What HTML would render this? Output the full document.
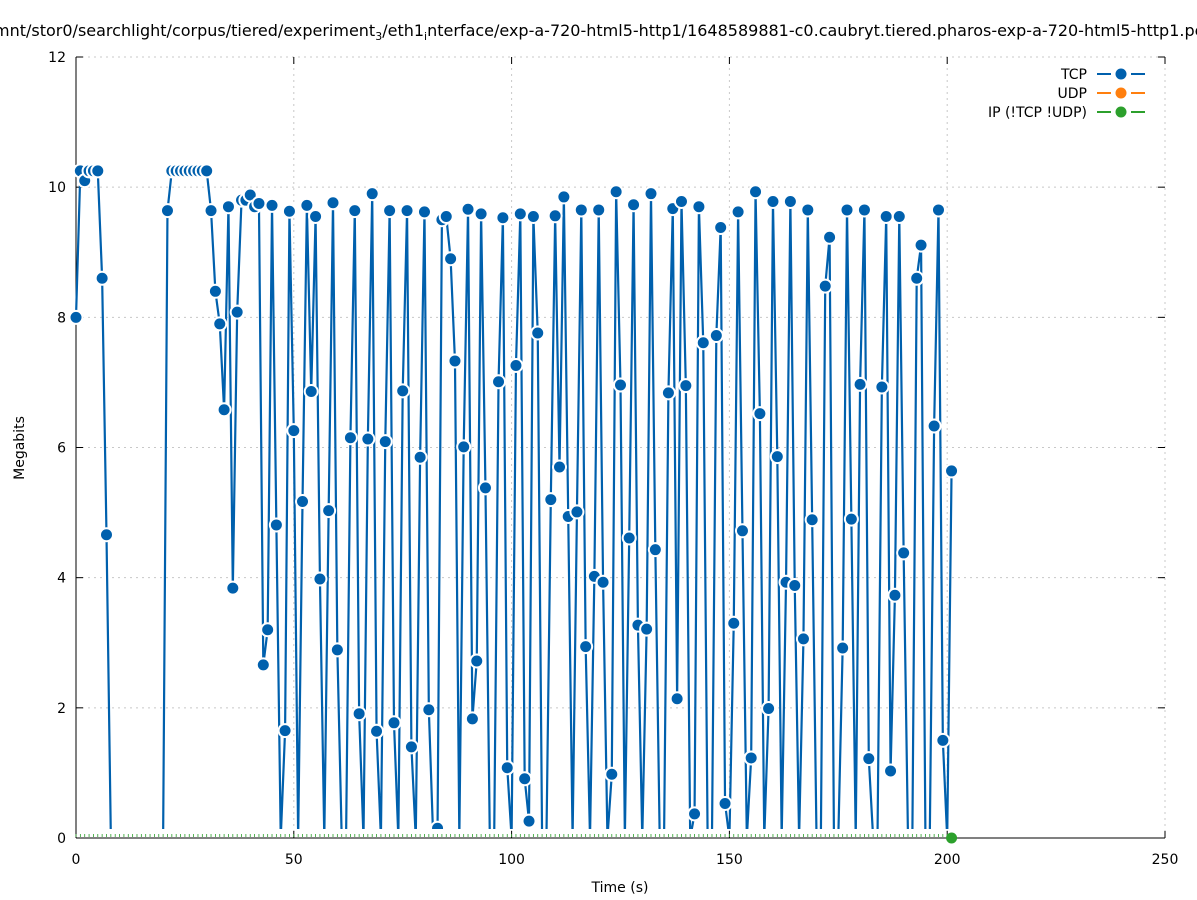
<!DOCTYPE html>
<html><head><meta charset="utf-8"><style>
body{margin:0;background:#fff;overflow:hidden;}
svg{display:block;font-family:"DejaVu Sans","Liberation Sans",sans-serif;}
</style></head><body>
<svg id="chart" width="1197" height="900" viewBox="0 0 1197 900">
<defs><clipPath id="plotclip"><rect x="60" y="40" width="1120" height="789"/></clipPath></defs>
<text x="-6" y="36" font-size="16">mnt/stor0/searchlight/corpus/tiered/experiment<tspan font-size="11" dy="4">3</tspan><tspan dy="-4">/eth1</tspan><tspan font-size="11" dy="4">i</tspan><tspan dy="-4">nterface/exp-a-720-html5-http1/1648589881-c0.caubryt.tiered.pharos-exp-a-720-html5-http1.pc</tspan></text>
<g id="grid"></g>
<g id="axes"></g>
<g id="series"></g>
<text x="620" y="892" font-size="14" text-anchor="middle">Time (s)</text>
<text transform="translate(24,448) rotate(-90)" font-size="14" text-anchor="middle">Megabits</text>
<g font-size="14">
 <g><text x="1087" y="79" text-anchor="end">TCP</text><line x1="1097" y1="74" x2="1145" y2="74" stroke="#0060ad" stroke-width="2" stroke-dasharray="14,20"/><circle cx="1121" cy="74" r="5.5" fill="#0060ad"/></g>
 <g><text x="1087" y="98" text-anchor="end">UDP</text><line x1="1097" y1="93" x2="1145" y2="93" stroke="#ff7f0e" stroke-width="2" stroke-dasharray="14,20"/><circle cx="1121" cy="93" r="5.5" fill="#ff7f0e"/></g>
 <g><text x="1087" y="117" text-anchor="end">IP (!TCP  !UDP)</text><line x1="1097" y1="112" x2="1145" y2="112" stroke="#2ca02c" stroke-width="2" stroke-dasharray="14,20"/><circle cx="1121" cy="112" r="5.5" fill="#2ca02c"/></g>
</g>
</svg>
<script>
const xTicks=[0,50,100,150,200,250];
const yTicks=[0,2,4,6,8,10,12];
const tcpValues=[8.0,10.25,10.1,10.25,10.25,10.25,8.6,4.66,0,0,0,0,0,0,0,0,0,0,0,0,0,9.64,10.25,10.25,10.25,10.25,10.25,10.25,10.25,10.25,10.25,9.64,8.4,7.9,6.58,9.7,3.84,8.08,9.8,9.8,9.88,9.7,9.75,2.66,3.2,9.72,4.81,0,1.65,9.63,6.26,0,5.17,9.72,6.86,9.55,3.98,0,5.03,9.76,2.89,0,0,6.15,9.64,1.91,0,6.13,9.9,1.64,0,6.09,9.64,1.77,0,6.87,9.64,1.4,0,5.85,9.62,1.97,0,0.15,9.5,9.55,8.9,7.33,0,6.01,9.66,1.83,2.72,9.59,5.38,0,0,7.01,9.53,1.08,0,7.26,9.59,0.91,0.26,9.55,7.76,0,0,5.2,9.56,5.7,9.85,4.94,0,5.01,9.65,2.94,0,4.02,9.65,3.93,0,0.98,9.93,6.96,0,4.61,9.73,3.27,0,3.21,9.9,4.43,0,0,6.84,9.67,2.14,9.78,6.95,0,0.37,9.7,7.61,0,0,7.72,9.38,0.53,0,3.3,9.62,4.72,0,1.23,9.93,6.52,0,1.99,9.78,5.86,0,3.93,9.78,3.88,0,3.06,9.65,4.89,0,0,8.48,9.23,0,0,2.92,9.65,4.9,0,6.97,9.65,1.22,0,0,6.93,9.55,1.03,3.73,9.55,4.38,0,0,8.6,9.11,0,0,6.33,9.65,1.5,0,5.64];
const ipValues=new Array(202).fill(0);
const X0=76,X1=1165,Y0=838,Y1=57;
const xs=v=>X0+(v-0)/(250-0)*(X1-X0);
const ys=v=>Y0-(v-0)/(12-0)*(Y0-Y1);
const NS="http://www.w3.org/2000/svg";
function mk(tag,attrs,parent){const e=document.createElementNS(NS,tag);for(const k in attrs)e.setAttribute(k,attrs[k]);parent.appendChild(e);return e;}
const grid=document.getElementById('grid'),axes=document.getElementById('axes'),ser=document.getElementById('series');
xTicks.forEach(t=>{
 const g=mk('line',{x1:xs(t),x2:xs(t),y1:Y0,y2:Y1,stroke:'#c8c8c8','stroke-width':1,'stroke-dasharray':'2,4'},grid);
 
 
 mk('line',{x1:xs(t),x2:xs(t),y1:Y0,y2:Y0-7,stroke:'#000'},axes);
 mk('line',{x1:xs(t),x2:xs(t),y1:Y1,y2:Y1+7,stroke:'#000'},axes);
 const l=mk('text',{x:xs(t),y:Y0+26,'font-size':14,'text-anchor':'middle'},axes);l.textContent=t;
 
 
});
yTicks.forEach(t=>{
 const g=mk('line',{x1:X0,x2:X1,y1:ys(t),y2:ys(t),stroke:'#c8c8c8','stroke-width':1,'stroke-dasharray':'2,4'},grid);
 
 
 mk('line',{x1:X0,x2:X0+7,y1:ys(t),y2:ys(t),stroke:'#000'},axes);
 mk('line',{x1:X1,x2:X1-7,y1:ys(t),y2:ys(t),stroke:'#000'},axes);
 const l=mk('text',{x:X0-10,y:ys(t)+5,'font-size':14,'text-anchor':'end'},axes);l.textContent=t;
 
 
});
const xa=mk('line',{x1:X0,x2:X1,y1:Y0,y2:Y0,stroke:'#000','stroke-width':1},axes);


const ya=mk('line',{x1:X0,x2:X0,y1:Y0,y2:Y1,stroke:'#000','stroke-width':1},axes);


// IP series ticks along baseline
ipValues.forEach((v,i)=>{
 const t=mk('line',{x1:xs(i),x2:xs(i),y1:ys(v)-1,y2:ys(v)-4,stroke:'#2ca02c','stroke-width':0.8},ser);
 
 
});
const tcpG=mk('g',{'clip-path':'url(#plotclip)'},ser);
const tcpLine=mk('polyline',{points:tcpValues.map((v,i)=>xs(i)+','+ys(v)).join(' '),fill:'none',stroke:'#0060ad','stroke-width':2.2,'stroke-linejoin':'round'},tcpG);


tcpValues.forEach((v,i)=>{
 if(v<=0)return;
 const c=mk('circle',{cx:xs(i),cy:ys(v),r:6.5,fill:'#0060ad',stroke:'#fff','stroke-width':2},tcpG);
 
 
});
const last=ipValues.length-1;
const gd=mk('circle',{cx:xs(last),cy:ys(ipValues[last]),r:5.5,fill:'#2ca02c'},ser);


</script>
</body></html>
